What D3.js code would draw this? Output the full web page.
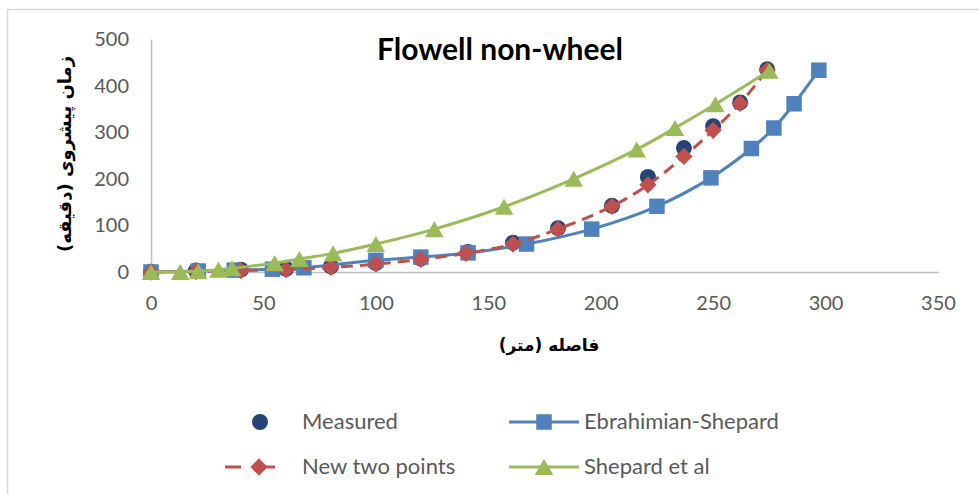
<!DOCTYPE html>
<html>
<head>
<meta charset="utf-8">
<script src="https://cdn.jsdelivr.net/npm/d3@7"></script>
<style>
  body { margin: 0; background: #fff; }
  svg { display: block; }
  text { font-family: Lato, "Open Sans", sans-serif; }
</style>
</head>
<body>
<div class="chart"></div>
<script>
// values
const xTicks = [0, 50, 100, 150, 200, 250, 300, 350];
const yTicks = [0, 100, 200, 300, 400, 500];

const measuredX = [0, 20, 40, 60, 80, 100, 120, 141, 161, 181, 205, 221, 237, 250, 262, 274];
const measuredY = [0, 3, 5, 7, 12, 19, 29, 43, 63, 94, 142, 204, 266, 313, 364, 435];

const ebrahimianX = [0, 21, 37, 54, 68, 100, 120, 141, 167, 196, 225, 249, 267, 277, 286, 297];
const ebrahimianY = [0, 2, 4, 6, 9, 25, 32, 41, 60, 92, 141, 202, 265, 309, 361, 433];

const newTwoX = [0, 20, 40, 60, 80, 100, 120, 140, 161, 181, 205, 221, 237, 250, 262, 274];
const newTwoY = [0, 1, 3, 5, 10, 17, 27, 40, 60, 92, 141, 187, 248, 304, 362, 433];

const shepardX = [0, 13, 21, 30, 36, 55, 66, 81, 100, 126, 157, 188, 216, 233, 251, 275];
const shepardY = [0, 0, 2, 5, 8, 19, 28, 40, 60, 92, 140, 200, 263, 309, 360, 432];

const zip = (xs, ys) => xs.map((x, i) => ({ x: x, y: ys[i] }));

const W = 979, H = 494;
const svg = d3.select(".chart").append("svg")
  .attr("width", W).attr("height", H);

// chart border
svg.append("rect")
  .attr("x", 7.5).attr("y", 9.5)
  .attr("width", W).attr("height", H)
  .attr("fill", "#fff").attr("stroke", "#d9d9d9").attr("stroke-width", 1.5);

const x = d3.scaleLinear().domain([0, 350]).range([151, 938]);
const y = d3.scaleLinear().domain([0, 500]).range([272, 39]);

const gray = "#595959";

// axes
const xAxis = svg.append("g")
  .attr("transform", `translate(0,${y(0)})`)
  .call(d3.axisBottom(x).tickValues(xTicks).tickSize(0).tickPadding(24));
xAxis.select(".domain").attr("stroke", "#bfbfbf").attr("stroke-width", 1.5);
xAxis.selectAll("text").attr("fill", gray).style("font-size", "20px");

const yAxis = svg.append("g")
  .attr("transform", `translate(${x(0)},0)`)
  .call(d3.axisLeft(y).tickValues(yTicks).tickSize(0).tickPadding(22));
yAxis.select(".domain").attr("stroke", "#bfbfbf").attr("stroke-width", 1.5);
yAxis.selectAll("text").attr("fill", gray).style("font-size", "20px");

// title and axis labels
svg.append("text")
  .attr("x", 500).attr("y", 60)
  .attr("text-anchor", "middle")
  .style("font-size", "30px").style("font-weight", "bold")
  .attr("fill", "#000")
  .text("Flowell non-wheel");

svg.append("text")
  .attr("transform", "translate(71,154) rotate(-90)")
  .attr("text-anchor", "middle")
  .attr("direction", "rtl")
  .style("font-family", "'DejaVu Sans', 'Noto Sans', sans-serif")
  .style("font-size", "18px").style("font-weight", "bold")
  .attr("fill", "#000")
  .text("زمان پیشروی (دقیقه)");

svg.append("text")
  .attr("x", 549).attr("y", 351)
  .attr("text-anchor", "middle")
  .attr("direction", "rtl")
  .style("font-family", "'DejaVu Sans', 'Noto Sans', sans-serif")
  .style("font-size", "17px").style("font-weight", "bold")
  .attr("fill", "#000")
  .text("فاصله (متر)");

const line = d3.line()
  .x(d => x(d.x)).y(d => y(d.y))
  .curve(d3.curveCatmullRom.alpha(0.5));

const colors = {
  measured: "#264478",
  ebrahimian: "#4f81bd",
  newTwo: "#c0504d",
  shepard: "#9bbb59"
};

const plot = svg.append("g");

// marker shapes
const sq = d3.symbol().type(d3.symbolSquare).size(240);
const dia = d3.symbol().type(d3.symbolDiamond2).size(190);
const tri = d3.symbol().type(d3.symbolTriangle).size(150);
const triShift = 2.7; // centre the triangle's box on the point

// Measured (markers only)
plot.append("g").selectAll("circle")
  .data(zip(measuredX, measuredY)).enter().append("circle")
  .attr("cx", d => x(d.x)).attr("cy", d => y(d.y))
  .attr("r", 8).attr("fill", colors.measured);

// Ebrahimian-Shepard
plot.append("path")
  .datum(zip(ebrahimianX, ebrahimianY))
  .attr("d", line).attr("fill", "none")
  .attr("stroke", colors.ebrahimian).attr("stroke-width", 3);
plot.append("g").selectAll("path")
  .data(zip(ebrahimianX, ebrahimianY)).enter().append("path")
  .attr("d", sq)
  .attr("transform", d => `translate(${x(d.x)},${y(d.y)})`)
  .attr("fill", colors.ebrahimian);

// New two points
plot.append("path")
  .datum(zip(newTwoX, newTwoY))
  .attr("d", line).attr("fill", "none")
  .attr("stroke", colors.newTwo).attr("stroke-width", 3)
  .attr("stroke-dasharray", "12,7");
plot.append("g").selectAll("path")
  .data(zip(newTwoX, newTwoY)).enter().append("path")
  .attr("d", dia)
  .attr("transform", d => `translate(${x(d.x)},${y(d.y)})`)
  .attr("fill", colors.newTwo);

// Shepard et al
plot.append("path")
  .datum(zip(shepardX, shepardY))
  .attr("d", line).attr("fill", "none")
  .attr("stroke", colors.shepard).attr("stroke-width", 3);
plot.append("g").selectAll("path")
  .data(zip(shepardX, shepardY)).enter().append("path")
  .attr("d", tri)
  .attr("transform", d => `translate(${x(d.x)},${y(d.y) + triShift})`)
  .attr("fill", colors.shepard);

// legend
const legend = svg.append("g");
const lg = [
  { name: "Measured", cx: 260, cy: 422, kind: "circle" },
  { name: "Ebrahimian-Shepard", cx: 544, cy: 422, kind: "square" },
  { name: "New two points", cx: 259, cy: 467, kind: "diamond" },
  { name: "Shepard et al", cx: 544, cy: 467, kind: "triangle" }
];
lg.forEach(d => {
  const g = legend.append("g").attr("transform", `translate(${d.cx},${d.cy})`);
  if (d.kind === "circle") {
    g.append("circle").attr("r", 8).attr("fill", colors.measured);
  } else if (d.kind === "square") {
    g.append("line").attr("x1", -35).attr("x2", 35)
      .attr("stroke", colors.ebrahimian).attr("stroke-width", 3);
    g.append("path").attr("d", sq).attr("fill", colors.ebrahimian);
  } else if (d.kind === "diamond") {
    g.append("line").attr("x1", -34).attr("x2", 32)
      .attr("stroke", colors.newTwo).attr("stroke-width", 3)
      .attr("stroke-dasharray", "16,18");
    g.append("path").attr("d", dia).attr("fill", colors.newTwo);
  } else {
    g.append("line").attr("x1", -35).attr("x2", 35)
      .attr("stroke", colors.shepard).attr("stroke-width", 3);
    g.append("path").attr("d", tri).attr("transform", `translate(0,${triShift})`)
      .attr("fill", colors.shepard);
  }
  legend.append("text")
    .attr("x", d.kind === "circle" || d.kind === "diamond" ? 302 : 584)
    .attr("y", d.cy + 7)
    .attr("fill", gray)
    .style("font-size", "22px")
    .text(d.name);
});
</script>
</body>
</html>
